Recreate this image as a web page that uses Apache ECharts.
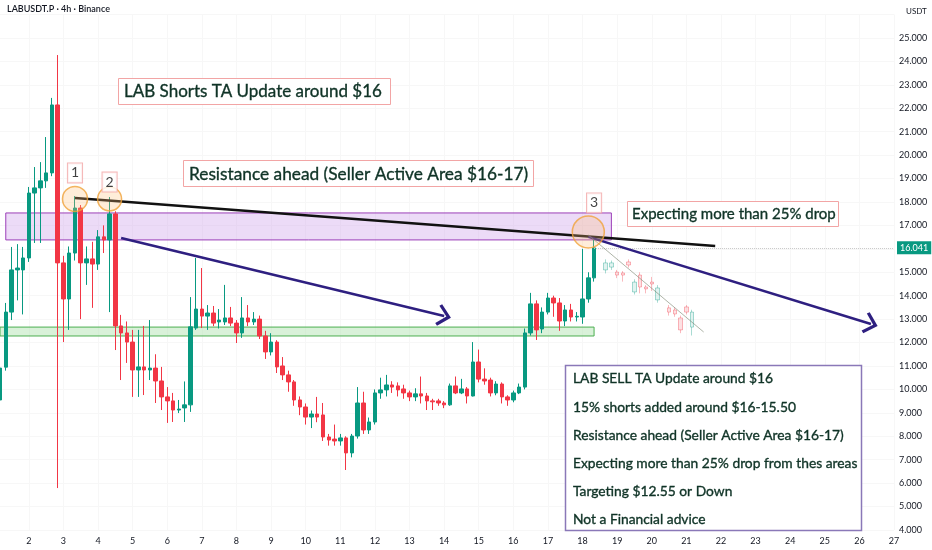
<!DOCTYPE html>
<html>
<head>
<meta charset="utf-8">
<script src="https://cdn.jsdelivr.net/npm/echarts@6/dist/echarts.min.js"></script>
<style>
  html, body { margin: 0; padding: 0; background: #fff; }
  #chart { width: 932px; height: 550px; }
</style>
</head>
<body>
<div id="chart"></div>
<script>
// 4h candles: [open, close, low, high]
var ohlc = [
  [9.55, 10.91, 9.33, 11.05], [10.95, 13.30, 10.80, 13.69], [13.30, 15.10, 12.96, 16.08], [15.10, 15.18, 13.80, 16.20],
  [15.10, 15.61, 13.20, 16.08], [15.61, 18.38, 15.44, 18.64], [18.38, 18.60, 16.25, 19.49], [18.60, 18.90, 16.25, 19.70],
  [18.90, 19.24, 18.60, 20.77], [19.24, 22.14, 19.10, 22.44], [22.14, 15.40, 5.79, 24.27], [15.40, 13.86, 12.02, 15.70],
  [13.86, 15.82, 12.54, 16.10], [15.82, 17.74, 15.50, 18.25], [17.74, 15.40, 13.00, 17.87], [15.40, 15.57, 14.46, 16.10],
  [15.57, 15.35, 13.48, 16.30], [15.35, 16.51, 15.10, 16.80], [16.51, 16.38, 15.82, 17.00], [16.38, 17.49, 13.30, 18.21],
  [17.49, 12.71, 11.68, 17.60], [12.71, 12.41, 10.40, 13.18], [12.41, 12.02, 11.13, 12.90], [12.02, 10.83, 9.68, 12.54],
  [10.83, 10.96, 9.68, 12.54], [10.96, 10.83, 9.76, 12.71], [10.83, 10.91, 10.40, 12.96], [10.91, 10.36, 9.42, 11.50],
  [10.36, 9.68, 9.12, 10.96], [9.68, 9.51, 8.57, 10.10], [9.51, 9.12, 8.61, 9.85], [9.12, 9.16, 8.99, 9.55],
  [9.21, 9.34, 8.61, 10.34], [9.34, 12.67, 9.04, 13.94], [12.62, 13.43, 12.54, 15.61], [13.43, 13.13, 12.62, 15.18],
  [13.13, 13.26, 12.54, 13.60], [13.26, 12.83, 12.70, 13.56], [12.88, 12.96, 12.60, 13.43], [12.88, 13.05, 12.75, 14.46],
  [13.05, 12.83, 12.70, 13.52], [12.83, 12.41, 11.98, 12.96], [12.41, 13.05, 12.20, 13.94], [13.05, 12.88, 12.70, 13.60],
  [12.88, 13.00, 12.75, 13.30], [13.00, 12.28, 12.15, 13.15], [12.28, 11.60, 11.30, 12.50], [11.60, 12.02, 11.45, 12.40],
  [12.02, 10.96, 10.70, 12.10], [11.00, 10.62, 10.40, 11.38], [10.62, 10.32, 9.90, 10.80], [10.32, 9.55, 9.30, 10.40],
  [9.55, 9.25, 8.90, 9.70], [9.25, 8.82, 8.50, 9.40], [8.82, 8.95, 8.35, 9.10], [8.95, 8.82, 8.60, 9.68],
  [8.91, 7.97, 7.80, 9.42], [7.97, 7.84, 7.60, 8.10], [7.88, 7.80, 7.60, 8.50], [7.80, 7.93, 7.60, 8.10],
  [7.93, 7.29, 6.56, 8.00], [7.29, 8.01, 7.10, 8.10], [8.01, 9.42, 7.90, 10.10], [9.42, 8.27, 8.10, 9.90],
  [8.27, 8.61, 8.10, 8.80], [8.61, 9.85, 8.50, 10.00], [9.85, 9.98, 9.60, 10.50], [9.98, 10.19, 9.70, 10.62],
  [10.19, 10.10, 9.85, 10.35], [10.15, 9.98, 9.70, 10.30], [10.02, 9.85, 9.60, 10.20], [9.85, 9.68, 9.50, 9.95],
  [9.68, 9.81, 9.50, 10.05], [9.81, 9.72, 9.40, 10.55], [9.72, 9.51, 9.12, 9.85], [9.51, 9.47, 9.12, 9.60],
  [9.51, 9.42, 9.30, 9.60], [9.42, 9.34, 9.20, 9.50], [9.34, 10.15, 9.30, 10.25], [10.15, 9.85, 9.80, 10.55],
  [9.85, 10.02, 9.80, 10.45], [10.02, 9.72, 9.40, 10.10], [9.72, 11.17, 9.70, 12.02], [11.17, 10.44, 10.30, 11.70],
  [10.44, 10.36, 10.20, 10.90], [10.40, 9.85, 9.70, 10.50], [9.85, 10.23, 9.75, 10.35], [10.23, 9.68, 9.40, 10.30],
  [9.68, 9.55, 9.30, 9.75], [9.55, 9.85, 9.45, 9.95], [9.85, 10.10, 9.80, 10.25], [10.10, 12.41, 10.00, 12.60],
  [12.41, 13.65, 12.30, 14.12], [13.65, 12.54, 12.11, 13.80], [12.58, 13.30, 12.40, 13.50], [13.30, 13.90, 13.20, 14.12],
  [13.90, 13.69, 13.10, 14.00], [13.69, 12.92, 12.50, 13.90], [12.92, 13.39, 12.70, 13.60], [13.39, 13.09, 12.90, 13.65],
  [13.09, 13.12, 12.90, 13.30], [13.09, 13.86, 12.80, 16.00], [13.86, 14.76, 13.70, 15.00], [14.76, 16.04, 14.60, 16.38]
];

// faded projection candles, starting at candle 105
var ghostStart = 105;
var ghost = [
  [15.10, 15.40, 14.95, 15.55], [15.22, 15.40, 15.10, 15.50], [15.01, 14.88, 14.75, 15.10], [14.97, 14.88, 14.60, 15.05],
  [15.44, 15.31, 15.20, 15.55], [14.16, 14.58, 14.05, 14.70], [14.88, 14.37, 14.10, 15.00], [14.37, 14.29, 14.10, 14.45],
  [14.58, 14.50, 14.20, 14.80], [13.82, 14.33, 13.70, 14.45], '-', [13.48, 13.30, 13.15, 13.60],
  [13.39, 13.22, 13.10, 13.50], [13.05, 12.54, 12.40, 13.15], [13.52, 13.30, 13.20, 13.60], [12.66, 13.30, 12.30, 13.40]
];

var lastPrice = 16.041;
var sellerZone = [17.53, 16.38];
var supportZone = [12.66, 12.28];
var blackTrend = [[13, 18.17], [124, 16.12]];
var arrowOne = [[20.8, 16.46], [76.8, 13.13]];
var arrowTwo = [[102.3, 16.51], [151.1, 12.79]];
var projLine = [[102.3, 16.59], [121.8, 12.45]];
var circles = [[13, 18.13], [19, 18.13], [102, 16.72]];
var markerPos = [[13, 19.24], [19, 18.85], [103, 17.96]];
var markerText = ['1', '2', '3'];

var titleText = 'LAB Shorts TA Update around $16';
var resistText = 'Resistance ahead (Seller Active Area $16-17)';
var dropText = 'Expecting more than 25% drop';
var boxLines = [
  'LAB SELL TA Update around $16',
  '15% shorts added around $16-15.50',
  'Resistance ahead (Seller Active Area $16-17)',
  'Expecting more than 25% drop from thes areas',
  'Targeting $12.55 or Down',
  'Not a Financial advice'
];

// categories: 4h steps from day 1 04:00
var categories = [];
for (var i = 0; i < 156; i++) {
  var h = 4 + i * 4;
  categories.push((1 + Math.floor(h / 24)) + ' ' + (h % 24) + ':00');
}

var ghostData = [];
for (var j = 0; j < ghostStart; j++) ghostData.push('-');
ghostData = ghostData.concat(ghost);

var up = '#089981', down = '#f23645';
var ink = '#0f3326';
var font = 'Lato, "Open Sans", sans-serif';
var chevron = 'path://M0,10 L10,0 L20,10 L18,12 L10,4 L2,12 Z';

var chart = echarts.init(document.getElementById('chart'));

function note(x, y, text, size) {
  return { type: 'text', x: x, y: y, z: 101,
    style: { text: text, font: size + 'px ' + font, fill: ink, stroke: ink, lineWidth: 0.35, verticalAlign: 'middle' } };
}
function box(x, y, w, hgt, stroke, lw) {
  return { type: 'rect', z: 100, shape: { x: x, y: y, width: w, height: hgt },
    style: { fill: '#fff', stroke: stroke, lineWidth: lw } };
}

var graphics = [
  { type: 'text', left: 7, top: 5, z: 100, style: { text: 'LABUSDT.P · 4h · Binance', font: '600 9px ' + font, fill: '#131722' } },
  { type: 'text', left: 906, top: 7, z: 100, style: { text: 'USDT', font: '8px ' + font, fill: '#131722' } },
  box(118.5, 78.5, 272, 26, '#f2a5a5', 1),
  note(124, 91.5, titleText, 17),
  box(183.5, 160.5, 350, 26, '#f2a5a5', 1),
  note(189, 174, resistText, 17.3),
  box(627.5, 201.5, 211, 25, '#f2a5a5', 1),
  note(632, 214, dropText, 15),
  box(565.5, 365.5, 296, 165, '#8a78b8', 1.5)
];
boxLines.forEach(function (t, k) {
  graphics.push(note(573, 379 + k * 28.2, t, 13.8));
});

chart.setOption({
  animation: false,
  backgroundColor: '#fff',
  grid: { left: 0, right: 38, top: 14.5, bottom: 20 },
  xAxis: {
    type: 'category',
    data: categories,
    boundaryGap: false,
    axisLine: { show: false },
    axisTick: { show: false },
    axisLabel: {
      interval: function (idx, val) { return / 0:00$/.test(val); },
      formatter: function (val) { return val.split(' ')[0]; },
      fontSize: 9, color: '#131722', margin: 7, fontFamily: font
    },
    splitLine: { show: true, interval: function (idx, val) { return / 0:00$/.test(val); }, lineStyle: { color: '#f7f7f7' } }
  },
  yAxis: {
    type: 'value',
    position: 'right',
    min: 4, max: 26, interval: 1,
    axisLine: { show: false },
    axisTick: { show: false },
    axisLabel: {
      formatter: function (v) { return v === 26 ? '' : v.toFixed(3); },
      fontSize: 9, color: '#131722', margin: 5, fontFamily: font
    },
    splitLine: { lineStyle: { color: '#f7f7f7' } }
  },
  graphic: graphics,
  series: [
    {
      type: 'candlestick',
      data: ohlc,
      barWidth: 4,
      clip: false,
      itemStyle: { color: up, color0: down, borderColor: up, borderColor0: down, borderWidth: 1 },
      markArea: {
        silent: true,
        data: [
          [{ coord: [1, sellerZone[0]], itemStyle: { color: 'rgba(206,160,235,0.38)', borderColor: '#9c3fb8', borderWidth: 1 } },
           { coord: [106, sellerZone[1]] }],
          [{ coord: [0, supportZone[0]], itemStyle: { color: 'rgba(170,225,170,0.45)', borderColor: '#4caf50', borderWidth: 1 } },
           { coord: [103, supportZone[1]] }]
        ]
      },
      markLine: {
        silent: true,
        animation: false,
        symbol: 'none',
        label: { show: false },
        data: [
          [{ coord: [103, lastPrice], symbol: 'none', lineStyle: { color: '#c8c8c8', width: 1, type: 'dotted' },
             label: { show: true, position: 'end', formatter: '16.041', color: '#fff', backgroundColor: up, padding: [2, 3], fontSize: 9, distance: 3, fontFamily: font } },
           { coord: [155, lastPrice], symbol: 'none' }],
          [{ coord: blackTrend[0], symbol: 'none', lineStyle: { color: '#111', width: 2.5, type: 'solid' } },
           { coord: blackTrend[1], symbol: 'none' }],
          [{ coord: arrowOne[0], symbol: 'none', lineStyle: { color: '#2e1f80', width: 2.5, type: 'solid' } },
           { coord: arrowOne[1], symbol: chevron, symbolSize: [22, 14] }],
          [{ coord: arrowTwo[0], symbol: 'none', lineStyle: { color: '#2e1f80', width: 2.5, type: 'solid' } },
           { coord: arrowTwo[1], symbol: chevron, symbolSize: [22, 14] }]
        ]
      }
    },
    {
      type: 'candlestick',
      data: ghostData,
      barWidth: 4,
      clip: false,
      itemStyle: { color: 'rgba(8,153,129,0.12)', color0: 'rgba(242,54,69,0.15)', borderColor: 'rgba(8,153,129,0.35)', borderColor0: 'rgba(242,54,69,0.35)', borderWidth: 1 },
      markLine: {
        silent: true,
        symbol: 'none',
        label: { show: false },
        data: [
          [{ coord: projLine[0], lineStyle: { color: 'rgba(120,130,110,0.6)', width: 1, type: 'solid' } }, { coord: projLine[1] }]
        ]
      }
    },
    {
      type: 'scatter',
      data: circles,
      symbolSize: function (v, p) { return [25, 24, 32][p.dataIndex]; },
      itemStyle: { color: 'rgba(255,190,120,0.35)', borderColor: '#f0a23a', borderWidth: 1.5 },
      silent: true,
      z: 5
    },
    {
      type: 'scatter',
      data: markerPos,
      symbol: 'rect',
      symbolSize: 1,
      itemStyle: { color: 'rgba(0,0,0,0)' },
      silent: true,
      label: {
        show: true, position: 'inside',
        formatter: function (p) { return markerText[p.dataIndex]; },
        fontSize: 14, color: '#111', fontFamily: font,
        backgroundColor: '#fff', borderColor: '#f2a5a5', borderWidth: 1, padding: [3, 3, 2, 3]
      },
      z: 6
    }
  ]
});
</script>
</body>
</html>
